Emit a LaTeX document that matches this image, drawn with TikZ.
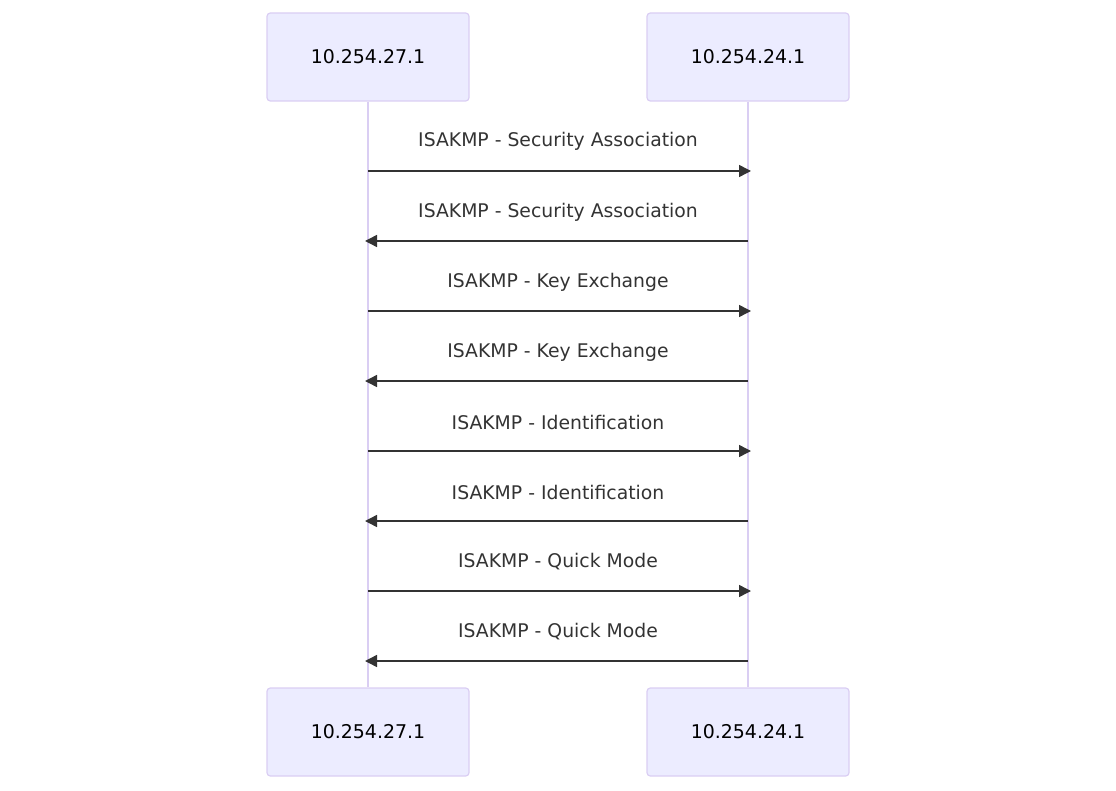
\documentclass[tikz,border=0pt]{standalone}
\usepackage{fontspec}
\setmainfont{DejaVu Sans}
\usepackage{tikz}
\usetikzlibrary{arrows.meta}

\definecolor{actorfill}{HTML}{ECECFF}
\definecolor{actorline}{HTML}{DACEF3}
\definecolor{msgcol}{HTML}{333333}

\tikzset{
  actor/.style={draw=actorline, fill=actorfill, line width=0.9pt, rounded corners=2.5pt,
    minimum width=151.5pt, minimum height=66pt, inner sep=0pt, text=black, font=\fontsize{14.2}{16}\selectfont},
  lifeline/.style={draw=actorline, line width=1.4pt},
  msg/.style={draw=msgcol, line width=1.1pt, -{Triangle[length=9pt,width=9pt]}},
  msglabel/.style={text=msgcol, font=\fontsize{14.1}{16}\selectfont, inner sep=0pt}
}

\begin{document}
\begin{tikzpicture}[x=0.75pt,y=0.75pt,yscale=-1,xscale=1]
    \useasboundingbox (0,0) rectangle (1116,791);

    % Actors
    \node [actor] (topA) at (368,57) {10.254.27.1};
    \node [actor] (topB) at (748,57) {10.254.24.1};
    \node [actor] (botA) at (368,732) {10.254.27.1};
    \node [actor] (botB) at (748,732) {10.254.24.1};

    % Lifelines
    \draw [lifeline] (topA.south) -- (botA.north);
    \draw [lifeline] (topB.south) -- (botB.north);

    % Message end points
    \coordinate (a1) at (368,171); \coordinate (b1) at (751,171);
    \coordinate (a2) at (365,241); \coordinate (b2) at (748,241);
    \coordinate (a3) at (368,311); \coordinate (b3) at (751,311);
    \coordinate (a4) at (365,381); \coordinate (b4) at (748,381);
    \coordinate (a5) at (368,451); \coordinate (b5) at (751,451);
    \coordinate (a6) at (365,521); \coordinate (b6) at (748,521);
    \coordinate (a7) at (368,591); \coordinate (b7) at (751,591);
    \coordinate (a8) at (365,661); \coordinate (b8) at (748,661);

    % Messages
    \draw [msg] (a1) -- (b1);
    \draw [msg] (b2) -- (a2);
    \draw [msg] (a3) -- (b3);
    \draw [msg] (b4) -- (a4);
    \draw [msg] (a5) -- (b5);
    \draw [msg] (b6) -- (a6);
    \draw [msg] (a7) -- (b7);
    \draw [msg] (b8) -- (a8);

    % Message labels
    \node [msglabel] (m1) at (558,141) {ISAKMP - Security Association};
    \node [msglabel] (m2) at (558,212) {ISAKMP - Security Association};
    \node [msglabel] (m3) at (558,282) {ISAKMP - Key Exchange};
    \node [msglabel] (m4) at (558,352) {ISAKMP - Key Exchange};
    \node [msglabel] (m5) at (558,422) {ISAKMP - Identification};
    \node [msglabel] (m6) at (558,492) {ISAKMP - Identification};
    \node [msglabel] (m7) at (558,562) {ISAKMP - Quick Mode};
    \node [msglabel] (m8) at (558,632) {ISAKMP - Quick Mode};
\end{tikzpicture}
\end{document}
